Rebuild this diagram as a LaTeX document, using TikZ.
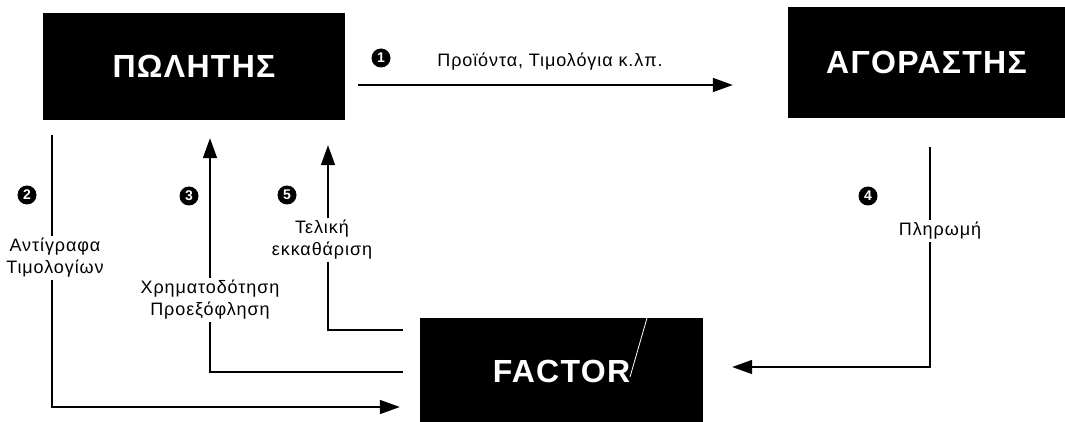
\documentclass[tikz,border=0pt]{standalone}
\usepackage{fontspec}
\setmainfont{Liberation Sans}
\newfontfamily\titlefont[LetterSpace=4]{Liberation Sans}
\newfontfamily\labelfont[LetterSpace=5]{Liberation Sans}
\usetikzlibrary{arrows.meta}
\tikzset{
  party/.style={fill=black, text=white, inner sep=0pt,
    font=\titlefont\fontsize{32}{36}\selectfont\bfseries},
  flow/.style={line width=1.6pt, -{Triangle[length=20pt,width=14pt]}},
  lbl/.style={font=\labelfont\fontsize{18}{22}\selectfont, align=center},
  gaplbl/.style={lbl, fill=white, inner sep=2pt},
  num/.style={circle, fill=black, text=white, inner sep=0pt, minimum size=19pt,
    font=\fontsize{14}{14}\selectfont\bfseries}
}
\begin{document}
\begin{tikzpicture}[x=1pt, y=-1pt]
\useasboundingbox (0,0) rectangle (1065,422);

% parties
\node[party, minimum width=302pt, minimum height=107pt] (pol) at (194,66.5) {ΠΩΛΗΤΗΣ};
\node[party, minimum width=277pt, minimum height=111pt] (ago) at (926.5,62.5) {ΑΓΟΡΑΣΤΗΣ};
\node[party, minimum width=283pt, minimum height=107pt] (fac) at (561.5,371.5) {FACTOR};
\draw[white, line width=0.8pt] (647,318) -- (630,377);

% 1: goods and invoices
\draw[flow, shorten <=13pt, shorten >=55pt] (pol.east |- 0,85) -- (ago.west |- 0,85);
\node[num] (n1) at (381,58) {1};
\node[lbl] (l1) at (550,62) {Προϊόντα, Τιμολόγια κ.λπ.};

% 2: invoice copies
\draw[flow, shorten <=15pt, shorten >=20pt] (pol.south -| 52,0) -- (52,407) -- (fac.west |- 0,407);
\node[gaplbl] (l2) at (55,258) {Αντίγραφα\\Τιμολογίων};
\node[num] (n2) at (27,195) {2};

% 3: financing
\draw[flow, shorten <=17pt, shorten >=18pt] (fac.west |- 0,372) -- (210,372) -- (pol.south -| 210,0);
\node[gaplbl] (l3) at (210,300) {Χρηματοδότηση\\Προεξόφληση};
\node[num] (n3) at (189,196) {3};

% 5: final settlement
\draw[flow, shorten <=17pt, shorten >=25pt] (fac.west |- 0,330) -- (328,330) -- (pol.south -| 328,0);
\node[gaplbl] (l5) at (322,240) {Τελική\\εκκαθάριση};
\node[num] (n5) at (287,195) {5};

% 4: payment
\draw[flow, shorten <=29pt, shorten >=29pt] (ago.south -| 930,0) -- (930,367) -- (fac.east |- 0,367);
\node[gaplbl] (l4) at (940,231) {Πληρωμή};
\node[num] (n4) at (868,196) {4};
\end{tikzpicture}
\end{document}
